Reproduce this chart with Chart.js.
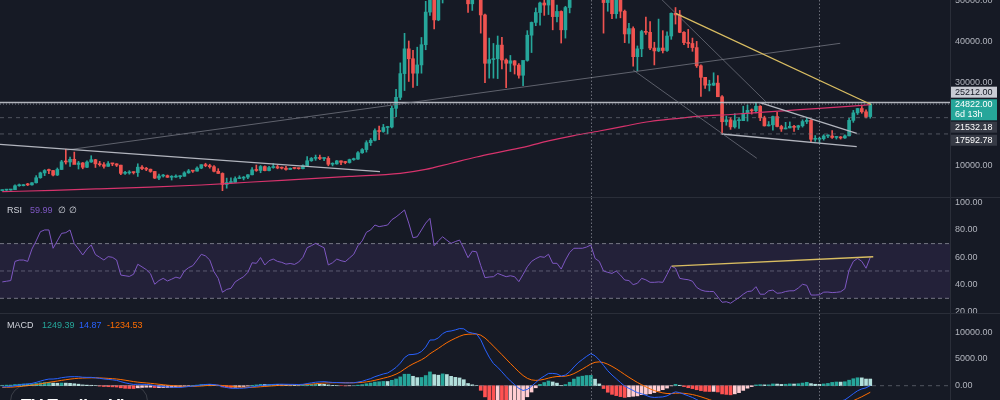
<!DOCTYPE html>
<html><head><meta charset="utf-8">
<script src="https://cdn.jsdelivr.net/npm/chart.js@4.4.1/dist/chart.umd.min.js"></script>
<style>
html,body{margin:0;padding:0;background:#161a25;}
#wrap{position:relative;width:1000px;height:400px;overflow:hidden;background:#161a25;font-family:"Liberation Sans",Arial,sans-serif;}
canvas{position:absolute;left:0;}
.sep{position:absolute;background:#2a2e39;}
.lg{position:absolute;font-size:9px;line-height:11px;white-space:pre;}
#wm{position:absolute;left:10px;top:385px;width:136px;height:34px;border:1px solid rgba(255,255,255,0.16);border-radius:16px;}
#wmt{position:absolute;left:21px;top:396px;font-size:17px;line-height:20px;font-weight:bold;color:#ffffff;white-space:pre;}
</style></head><body>
<div id="wrap">
<canvas id="cMain" width="1000" height="197" style="top:0px"></canvas>
<canvas id="cRsi" width="1000" height="115" style="top:198px"></canvas>
<canvas id="cMacd" width="1000" height="86" style="top:314px"></canvas>
<div class="sep" style="left:0;top:197px;width:1000px;height:1px"></div>
<div class="sep" style="left:0;top:313px;width:1000px;height:1px"></div>
<div class="sep" style="left:950px;top:0;width:1px;height:400px"></div>
<div class="lg" style="left:7px;top:205px;color:#d1d4dc">RSI</div>
<div class="lg" id="rsiVal" style="left:30px;top:205px;color:#7e57c2"></div>
<div class="lg" style="left:58px;top:205px;color:#d1d4dc">∅ ∅</div>
<div class="lg" style="left:7px;top:320px;color:#d1d4dc">MACD</div>
<div class="lg" id="mHist" style="left:42px;top:320px;color:#26a69a"></div>
<div class="lg" id="mMacd" style="left:79px;top:320px;color:#2962ff"></div>
<div class="lg" id="mSig" style="left:107px;top:320px;color:#ff6d00"></div>
<div id="wm"></div>
<div id="wmt">TV TradingView</div>
</div>
<script>
// ---------- DATA (weekly candles, index 0 = week of 2019-03-11) ----------
const open = [3870,3990,4020,4105,5050,5070,5300,5260,5770,6990,
8160,8740,8730,7640,8990,10850,10800,11450,10200,10570,
9520,10800,11350,10350,10150,9750,10400,10350,10030,8050,
8150,8300,8230,9550,9200,9050,8500,6900,7400,7500,
7100,7150,7250,7350,8170,8650,8590,9320,10150,9920,
9650,8550,8030,5360,5820,5880,6780,6900,7130,7700,
8900,8750,9700,8720,9450,9660,9350,9300,9000,9280,
9240,9180,9930,11100,11680,11900,11650,11680,10250,10330,
11080,10730,10670,11380,11500,13030,13800,15480,16050,18400,
18180,19150,19270,23800,26450,32200,38200,35800,32300,34300,
39200,47100,57500,45200,51000,59000,57500,55800,58200,60000,
56200,49100,56600,58200,46400,34700,35600,35800,39100,35500,
34700,35300,34250,31800,35400,41500,44600,47000,49300,48800,
51800,46000,47250,42800,48200,54700,61500,61000,61300,63300,
65500,59700,57300,49400,50100,46700,50800,47300,41800,43100,
36300,38200,42400,42200,38400,37700,38400,37800,41300,46800,
46400,42200,39700,39500,38500,34100,31300,29400,29400,29900,
26600,20550,21000,19300,20800,20800,22600,23300,23200,24300,
21500,19550,19800,21800,19400,18800,19050,19440,19200,19570,
20600,20900,16300,16300,16450,17100,17100,16750,16850,16620,
17130,20880,22700,23750,22950,21800];
const high = [4050,4100,4140,5300,5470,5370,5630,5800,7500,8350,
8950,9090,8800,9350,11200,13880,12000,13200,10950,10680,
11100,12320,11450,10950,10630,10900,10450,10400,10050,8550,
8700,8420,10370,9950,9500,9100,8530,7860,7800,7650,
7500,7700,7500,8450,9000,8800,9600,10150,10500,10250,
9960,9180,8180,6900,6950,7200,7470,7290,7730,9470,
10060,9950,9850,9750,10430,9990,9600,9780,9350,9470,
9350,10100,12100,11900,12480,12470,11800,12100,10600,11180,
11100,10950,11500,11740,13350,14050,15950,16480,18800,19480,
19900,19450,24300,28400,34800,41950,40100,37850,38600,40950,
49700,58350,57500,52600,61800,60600,58400,60000,61300,64850,
57500,58450,59600,59600,46600,40800,39500,41300,41000,35750,
36600,35350,34650,35000,42600,44700,48100,49500,50500,51900,
52900,48800,47400,48500,56600,62900,67000,63700,63500,69000,
66400,59900,59100,51950,50500,52100,52100,47600,44400,43500,
38900,42700,45900,44800,39800,45400,42600,42300,46900,48200,
47500,42400,42900,40800,40000,34300,31300,30600,32400,31700,
26900,21900,21500,22500,21500,24300,24600,23650,25200,24450,
21900,20600,21900,22800,19700,20400,20500,19650,19700,21000,
21400,21050,17200,16800,17400,17400,18400,17000,16980,17400,
21400,23300,23800,24250,23450,25000];
const low = [3800,3900,3950,4090,4920,5000,5080,5170,5700,6850,
7500,8000,7450,7520,8970,10300,9700,11000,9100,9150,
9420,10700,9470,9800,9330,9750,9900,9700,7730,7800,
7850,7890,7300,8950,8700,8300,6800,6520,7150,7050,
6430,7050,6850,7350,8050,8250,8580,9170,9650,9300,
8400,8000,3850,4450,5700,5860,6770,6460,6790,7650,
8540,8200,8650,8620,9280,9150,9100,8830,8980,9120,
9050,9150,9920,10950,11200,11370,11140,9880,9850,10250,
10140,10370,10530,11200,11400,12900,13200,14800,15900,16200,
18000,17600,19050,21800,25900,28100,30300,28850,29300,32300,
37980,46300,43000,45000,49300,53300,50400,54600,55500,51500,
47000,47500,52900,42000,30000,31100,31100,31000,33350,28800,
32700,32100,31100,29300,35200,37300,43800,43900,46300,46500,
42800,44700,39600,40800,46900,53900,59600,57800,59400,62300,
55600,53300,42000,47300,45500,45600,45700,39700,39600,34000,
32900,36300,41700,38000,34300,37500,37200,37600,40500,44200,
42100,39200,38500,37600,33700,26700,28600,28000,29300,26600,
17592,19700,18700,19000,18900,20800,20700,22400,22700,20800,
19500,19500,18500,19300,18200,18800,19050,18200,18650,19250,
20100,15600,15800,15480,16100,16700,16500,16350,16350,16500,
17100,20400,22300,22600,21450,21400];
const close = [3990,4020,4105,5050,5070,5300,5260,5770,6990,8160,
8740,8730,7640,8990,10850,10800,11450,10200,10570,9520,
10800,11350,10350,10150,9750,10400,10350,10030,8050,8150,
8300,8230,9550,9200,9050,8500,6900,7400,7500,7100,
7150,7250,7350,8170,8650,8590,9320,10150,9920,9650,
8550,8030,5360,5820,5880,6780,6900,7130,7700,8900,
8750,9700,8720,9450,9660,9350,9300,9000,9280,9240,
9180,9930,11100,11680,11900,11650,11680,10250,10330,11080,
10730,10670,11380,11500,13030,13800,15480,16050,18400,18180,
19150,19270,23800,26450,32200,38200,35800,32300,34300,39200,
47100,57500,45200,51000,59000,57500,55800,58200,60000,56200,
49100,56600,58200,46400,34700,35600,35800,39100,35500,34700,
35300,34250,31800,35400,41500,44600,47000,49300,48800,51800,
46000,47250,42800,48200,54700,61500,61000,61300,63300,65500,
59700,57300,49400,50100,46700,50800,47300,41800,43100,36300,
38200,42400,42200,38400,37700,38400,37800,41300,46800,46400,
42200,39700,39500,38500,34100,31300,29400,29400,29900,26600,
20550,21000,19300,20800,20800,22600,23300,23200,24300,21500,
19550,19800,21800,19400,18800,19050,19440,19200,19570,20600,
20900,16300,16300,16450,17100,17100,16750,16850,16620,17130,
20880,22700,23750,22950,21800,24822];

// 200-week moving average, read at these candle indexes
const maIndex = [0,12,23,35,47,58,70,82,94,100,106,112,118,124,129,135,141,147,153,159,165,172,179,186,193,199,205];
const maValue = [3610,3950,4300,4700,5230,5900,6600,7300,8060,9000,10500,12000,13300,14600,15900,17200,18300,19500,20600,21300,21900,22300,22800,23300,23800,24200,24700];

const rsi = [42,42.5,43,57,58,58,57,66,72,78.7,
80,80,66.6,72,77.5,78,80,70,66,61.7,
66,69,62,60,58,60.5,60,58,47,46.5,
46,47.6,54.9,53,51,48,40.3,43,44.6,42.7,
44,45.5,44.6,50,52.4,53.9,58,62.2,61,58,
49.5,44.6,34.4,36.5,37.3,42,44,45.8,49,56,
55.6,59.8,54.4,57.5,58.7,57,56.3,55,55.5,54.8,
56.5,60,67,68.5,70.2,68.5,67,54.4,56,58.7,
57.5,56.8,59.5,62.2,68.5,72,78.3,80,83.6,82.4,
83,83.6,87.5,89.5,92,94.6,85,74.3,75,80,
85,88.5,68.5,72,75,72.5,70.2,71.5,72.6,66.5,
59.7,64.5,64,54,45.1,45.6,45.8,48.2,47,45.8,
46.5,45.8,42.2,47.5,53.1,57,59,60.5,60,62.2,
55.6,55.6,51.4,58,63.5,66.6,66.6,66.6,67.5,69,
59.2,57,50,49,48.2,50,47,43.4,43,40,
41,44.6,43.5,41.7,41.7,42,41.7,47.5,53.6,52,
44.6,44,43.6,42.5,38,36.1,35.2,35,35,31,
27.1,27.5,26.4,28.5,30.5,33,35,35.3,38.5,33,
33,35.5,36,33.7,34,35,35.5,35.5,37.5,40.3,
39.5,32.4,32.4,32.6,34.5,34.6,34.2,34.4,34.8,37,
50.7,57,59.2,57,52,59.99];

const macd = [-250,-200,-150,0,120,250,330,430,620,860,
1080,1240,1250,1330,1500,1600,1680,1690,1680,1580,
1560,1560,1480,1380,1260,1180,1100,1000,760,540,
380,240,270,260,230,170,0,-90,-150,-230,
-280,-310,-320,-250,-150,-80,20,150,230,270,
200,100,-180,-350,-480,-500,-490,-460,-380,-220,
-110,50,90,170,240,270,280,260,250,240,
220,260,400,530,650,720,760,680,610,600,
560,520,530,550,680,830,1090,1330,1690,1940,
2200,2380,2850,3420,4220,5260,5800,5850,5980,6400,
7230,8550,8570,8950,9750,10150,10250,10450,10700,10650,
10050,9850,9700,8600,6850,5350,4150,3450,2600,1700,
900,200,-500,-900,-700,-100,600,1300,1800,2300,
2300,2200,1800,2000,2600,3500,4300,4900,5500,6000,
5600,4800,3800,2800,2000,1300,600,-100,-500,-900,
-1300,-1500,-1800,-2100,-2200,-2150,-2100,-1900,-1500,-1150,
-1300,-1600,-1900,-2200,-2600,-3000,-3400,-3700,-3950,-4350,
-5100,-5600,-6100,-6300,-6400,-6200,-5900,-5650,-5300,-5200,
-5200,-5150,-4900,-4850,-4850,-4750,-4600,-4550,-4400,-4150,
-3850,-4000,-4050,-4000,-3850,-3650,-3300,-3050,-2900,-2650,
-2100,-1500,-950,-600,-400,14.87];
const signal = [-330,-304,-273,-218,-150,-70,10,94,199,331,
481,633,756,871,997,1118,1230,1322,1394,1431,
1457,1478,1478,1458,1418,1370,1316,1253,1154,1031,
901,769,669,587,516,447,358,268,184,101,
25,-42,-98,-128,-132,-122,-94,-45,10,62,
90,92,38,-40,-128,-202,-260,-300,-316,-297,
-260,-198,-140,-78,-14,43,90,124,149,167,
178,194,235,294,365,436,501,537,552,562,
562,554,549,549,575,626,719,841,1011,1197,
1398,1594,1845,2160,2572,3110,3648,4088,4466,4853,
5328,5972,6492,6984,7537,8060,8498,8888,9250,9530,
9634,9677,9682,9466,8943,8224,7409,6617,5814,4991,
4173,3378,2602,1902,1382,1086,989,1051,1201,1421,
1597,1718,1734,1787,1950,2260,2668,3114,3591,4073,
4378,4462,4330,4024,3619,3155,2644,2095,1576,1081,
605,184,-213,-590,-912,-1160,-1348,-1458,-1466,-1403,
-1382,-1426,-1521,-1657,-1846,-2077,-2342,-2614,-2881,-3175,
-3560,-3968,-4394,-4775,-5100,-5320,-5436,-5479,-5443,-5394,
-5355,-5314,-5231,-5155,-5094,-5025,-4940,-4862,-4770,-4646,
-4487,-4390,-4322,-4258,-4176,-4071,-3917,-3744,-3575,-3390,
-3132,-2806,-2435,-2068,-1650,-1234.53];
const hist = [80,104,123,218,270,320,320,336,421,529,
599,607,494,459,503,482,450,368,286,149,
103,82,2,-78,-158,-190,-216,-253,-394,-491,
-521,-529,-399,-327,-286,-277,-358,-358,-334,-331,
-305,-268,-222,-122,-18,42,114,195,220,208,
110,8,-218,-310,-352,-298,-230,-160,-64,77,
150,248,230,248,254,227,190,136,101,73,
42,66,165,236,285,284,259,143,58,38,
-2,-34,-19,1,105,204,371,489,679,743,
802,786,1005,1260,1648,2150,2152,1762,1514,1547,
1902,2578,2078,1966,2213,2090,1752,1562,1450,1120,
416,173,18,-866,-2093,-2874,-3259,-3167,-3214,-3291,
-3273,-3178,-3102,-2802,-2082,-1186,-389,249,599,879,
703,482,66,213,650,1240,1632,1786,1909,1927,
1222,338,-530,-1224,-1619,-1855,-2044,-2195,-2076,-1981,
-1905,-1684,-1587,-1510,-1288,-990,-752,-442,-34,253,
82,-174,-379,-543,-754,-923,-1058,-1086,-1069,-1175,
-1540,-1632,-1706,-1525,-1300,-880,-464,-171,143,194,
155,164,331,305,244,275,340,312,370,496,
637,390,272,258,326,421,617,694,675,740,
1032,1306,1485,1468,1250,1249.39];

// drawn trend lines: [candle index, value]
const trend2019 = [[-0.54,15085],[89.2,8450]];
const trendRise = [[15.2,13705],[197.9,39540]];
const trendYellow = [[159.05,46804],[205.2,24721]];
const trendFallA = [[139,67000],[180.4,25327]];
const trendFallB = [[149.0,33075],[178.2,11695]];
const wedgeTop = [[178.96,25157],[201.8,17748]];
const wedgeBottom = [[169.9,17579],[201.8,14504]];
const rsiTrend = [[158.1,53.6],[205.7,60.4]];

const levelSolid = 25212.00;
const levelDashed = [21532.18, 17592.78];
const lastPrice = 24822.00;
const countdown = '6d 13h';
const rsiLevels = [70, 50, 30];
const markerIndex = [139, 193];

const mainTicks = [10000, 30000, 40000, 50000];
const rsiTicks = [20, 40, 60, 80, 100];
const macdTicks = [0, 5000, 10000];

// ---------- RENDERING ----------
const UP = '#26a69a', DOWN = '#ef5350';
const XMIN = -0.543, XMAX = 223.83;
const FONT = '"Liberation Sans", Arial, sans-serif';
Chart.defaults.font.family = FONT;
Chart.defaults.font.size = 9;
Chart.defaults.color = '#b2b5be';

const pts = (arr) => arr.map(p => ({x: p[0], y: p[1]}));
const hline = (v) => [{x: XMIN, y: v}, {x: XMAX, y: v}];
const lineDs = (data, color, width, dash) => ({type: 'line', data, borderColor: color, borderWidth: width, borderDash: dash || [], pointRadius: 0, fill: false, tension: 0});

const vlinePlugin = {
  id: 'vlines',
  afterDatasetsDraw(chart) {
    const {ctx, chartArea: a, scales: {x}} = chart;
    ctx.save();
    ctx.strokeStyle = 'rgba(178,181,190,0.55)';
    ctx.lineWidth = 1;
    ctx.setLineDash([1.5, 2]);
    markerIndex.forEach(i => {
      const px = Math.round(x.getPixelForValue(i)) + 0.5;
      ctx.beginPath(); ctx.moveTo(px, a.top); ctx.lineTo(px, a.bottom); ctx.stroke();
    });
    ctx.restore();
  }
};

const axisLabelPlugin = {
  id: 'axisLabels',
  afterDraw(chart, args, opts) {
    const items = opts.items || [];
    const {ctx, chartArea: a, scales: {y}} = chart;
    items.forEach(it => {
      const cy = y.getPixelForValue(it.value) + it.shift;
      const h = it.lines.length * 10 + 1;
      ctx.save();
      ctx.fillStyle = it.bg;
      ctx.fillRect(a.right + 1, cy - h / 2, 46, h);
      ctx.fillStyle = it.fg;
      ctx.font = '9px ' + FONT;
      ctx.textBaseline = 'middle';
      ctx.textAlign = 'left';
      it.lines.forEach((t, k) => ctx.fillText(t, a.right + 5, cy - h / 2 + 0.5 + 10 * (k + 0.5)));
      ctx.restore();
    });
  }
};

function yAxis(min, max, ticks) {
  return {
    type: 'linear', position: 'right', min, max,
    grid: {display: false, drawTicks: false},
    border: {display: false},
    ticks: {padding: 5, autoSkip: false, color: '#b2b5be', font: {size: 9, family: FONT}, callback: v => Number(v).toFixed(2)},
    afterBuildTicks: ax => { ax.ticks = ticks.map(v => ({value: v})); },
    afterFit: ax => { ax.width = 50; ax.paddingTop = 0; ax.paddingBottom = 0; }
  };
}
const xAxis = {type: 'linear', min: XMIN, max: XMAX, display: false, offset: false};
const baseOpts = (yScale, extraPlugins) => ({
  responsive: false, animation: false, events: [],
  layout: {padding: 0},
  scales: {x: xAxis, y: yScale},
  plugins: Object.assign({legend: {display: false}, tooltip: {enabled: false}}, extraPlugins || {})
});

const candleColors = close.map((c, i) => c >= open[i] ? UP : DOWN);

// main price pane
new Chart(document.getElementById('cMain'), {
  type: 'bar',
  data: {datasets: [
    lineDs(pts(trendYellow), '#d9bd62', 1.3),
    lineDs(pts(trend2019), '#b2b5be', 1.2),
    lineDs(pts(trendRise), 'rgba(120,123,134,0.75)', 1),
    lineDs(pts(trendFallA), 'rgba(120,123,134,0.7)', 1),
    lineDs(pts(trendFallB), 'rgba(120,123,134,0.7)', 1),
    lineDs(pts(wedgeTop), '#b2b5be', 1.3),
    lineDs(pts(wedgeBottom), '#b2b5be', 1.3),
    lineDs(hline(levelSolid), 'rgba(195,198,206,0.9)', 1.5),
    lineDs(hline(lastPrice), 'rgba(130,134,145,0.9)', 1, [1, 2]),
    lineDs(hline(levelDashed[0]), 'rgba(120,123,134,0.6)', 1, [4, 4]),
    lineDs(hline(levelDashed[1]), 'rgba(120,123,134,0.6)', 1, [4, 4]),
    Object.assign(lineDs(maIndex.map((ix, k) => ({x: ix, y: maValue[k]})), '#d6336c', 1.2), {cubicInterpolationMode: 'monotone'}),
    {type: 'bar', data: open.map((o, i) => ({x: i, y: [o, close[i]]})), backgroundColor: candleColors, barThickness: 3, grouped: false, minBarLength: 1, borderWidth: 0},
    {type: 'bar', data: low.map((l, i) => ({x: i, y: [l, high[i]]})), backgroundColor: candleColors, barThickness: 1, grouped: false, borderWidth: 0}
  ]},
  options: baseOpts(yAxis(2324, 50024, mainTicks), {
    axisLabels: {items: [
      {value: levelSolid, shift: -10.3, lines: [levelSolid.toFixed(2)], bg: '#c9ccd4', fg: '#131722'},
      {value: lastPrice, shift: 5.7, lines: [lastPrice.toFixed(2), countdown], bg: '#26a69a', fg: '#ffffff'},
      {value: levelDashed[0], shift: 9.5, lines: [levelDashed[0].toFixed(2)], bg: '#363a45', fg: '#ffffff'},
      {value: levelDashed[1], shift: 6.3, lines: [levelDashed[1].toFixed(2)], bg: '#363a45', fg: '#ffffff'}
    ]}
  }),
  plugins: [vlinePlugin, axisLabelPlugin]
});

// RSI pane
new Chart(document.getElementById('cRsi'), {
  type: 'line',
  data: {datasets: [
    lineDs(pts(rsiTrend), '#d9bd62', 1.3),
    lineDs(rsi.map((v, i) => ({x: i, y: v})), '#7e57c2', 1),
    Object.assign(lineDs(hline(rsiLevels[0]), 'rgba(140,143,154,0.8)', 1, [4, 3]), {fill: '+1', backgroundColor: 'rgba(126,87,194,0.13)'}),
    lineDs(hline(rsiLevels[2]), 'rgba(140,143,154,0.8)', 1, [4, 3]),
    lineDs(hline(rsiLevels[1]), 'rgba(140,143,154,0.55)', 1, [4, 3])
  ]},
  options: baseOpts(yAxis(19.27, 103.36, rsiTicks)),
  plugins: [vlinePlugin]
});

// MACD pane
const histColor = (i) => {
  const v = hist[i], p = i > 0 ? hist[i - 1] : 0;
  if (v >= 0) return v >= p ? '#26a69a' : '#b2dfdb';
  return v < p ? '#ff5252' : '#ffcdd2';
};
new Chart(document.getElementById('cMacd'), {
  type: 'bar',
  data: {datasets: [
    lineDs(macd.map((v, i) => ({x: i, y: v})), '#2962ff', 1),
    lineDs(signal.map((v, i) => ({x: i, y: v})), '#ff6d00', 1),
    lineDs(hline(0), 'rgba(120,123,134,0.6)', 1, [4, 4]),
    {type: 'bar', data: hist.map((v, i) => ({x: i, y: v})), backgroundColor: hist.map((v, i) => histColor(i)), barThickness: 3, grouped: false, borderWidth: 0}
  ]},
  options: baseOpts(yAxis(-2678, 13427, macdTicks)),
  plugins: [vlinePlugin]
});

document.getElementById('rsiVal').textContent = rsi[rsi.length - 1].toFixed(2);
document.getElementById('mHist').textContent = hist[hist.length - 1].toFixed(2);
document.getElementById('mMacd').textContent = macd[macd.length - 1].toFixed(2);
document.getElementById('mSig').textContent = signal[signal.length - 1].toFixed(2);
</script>
</body></html>
